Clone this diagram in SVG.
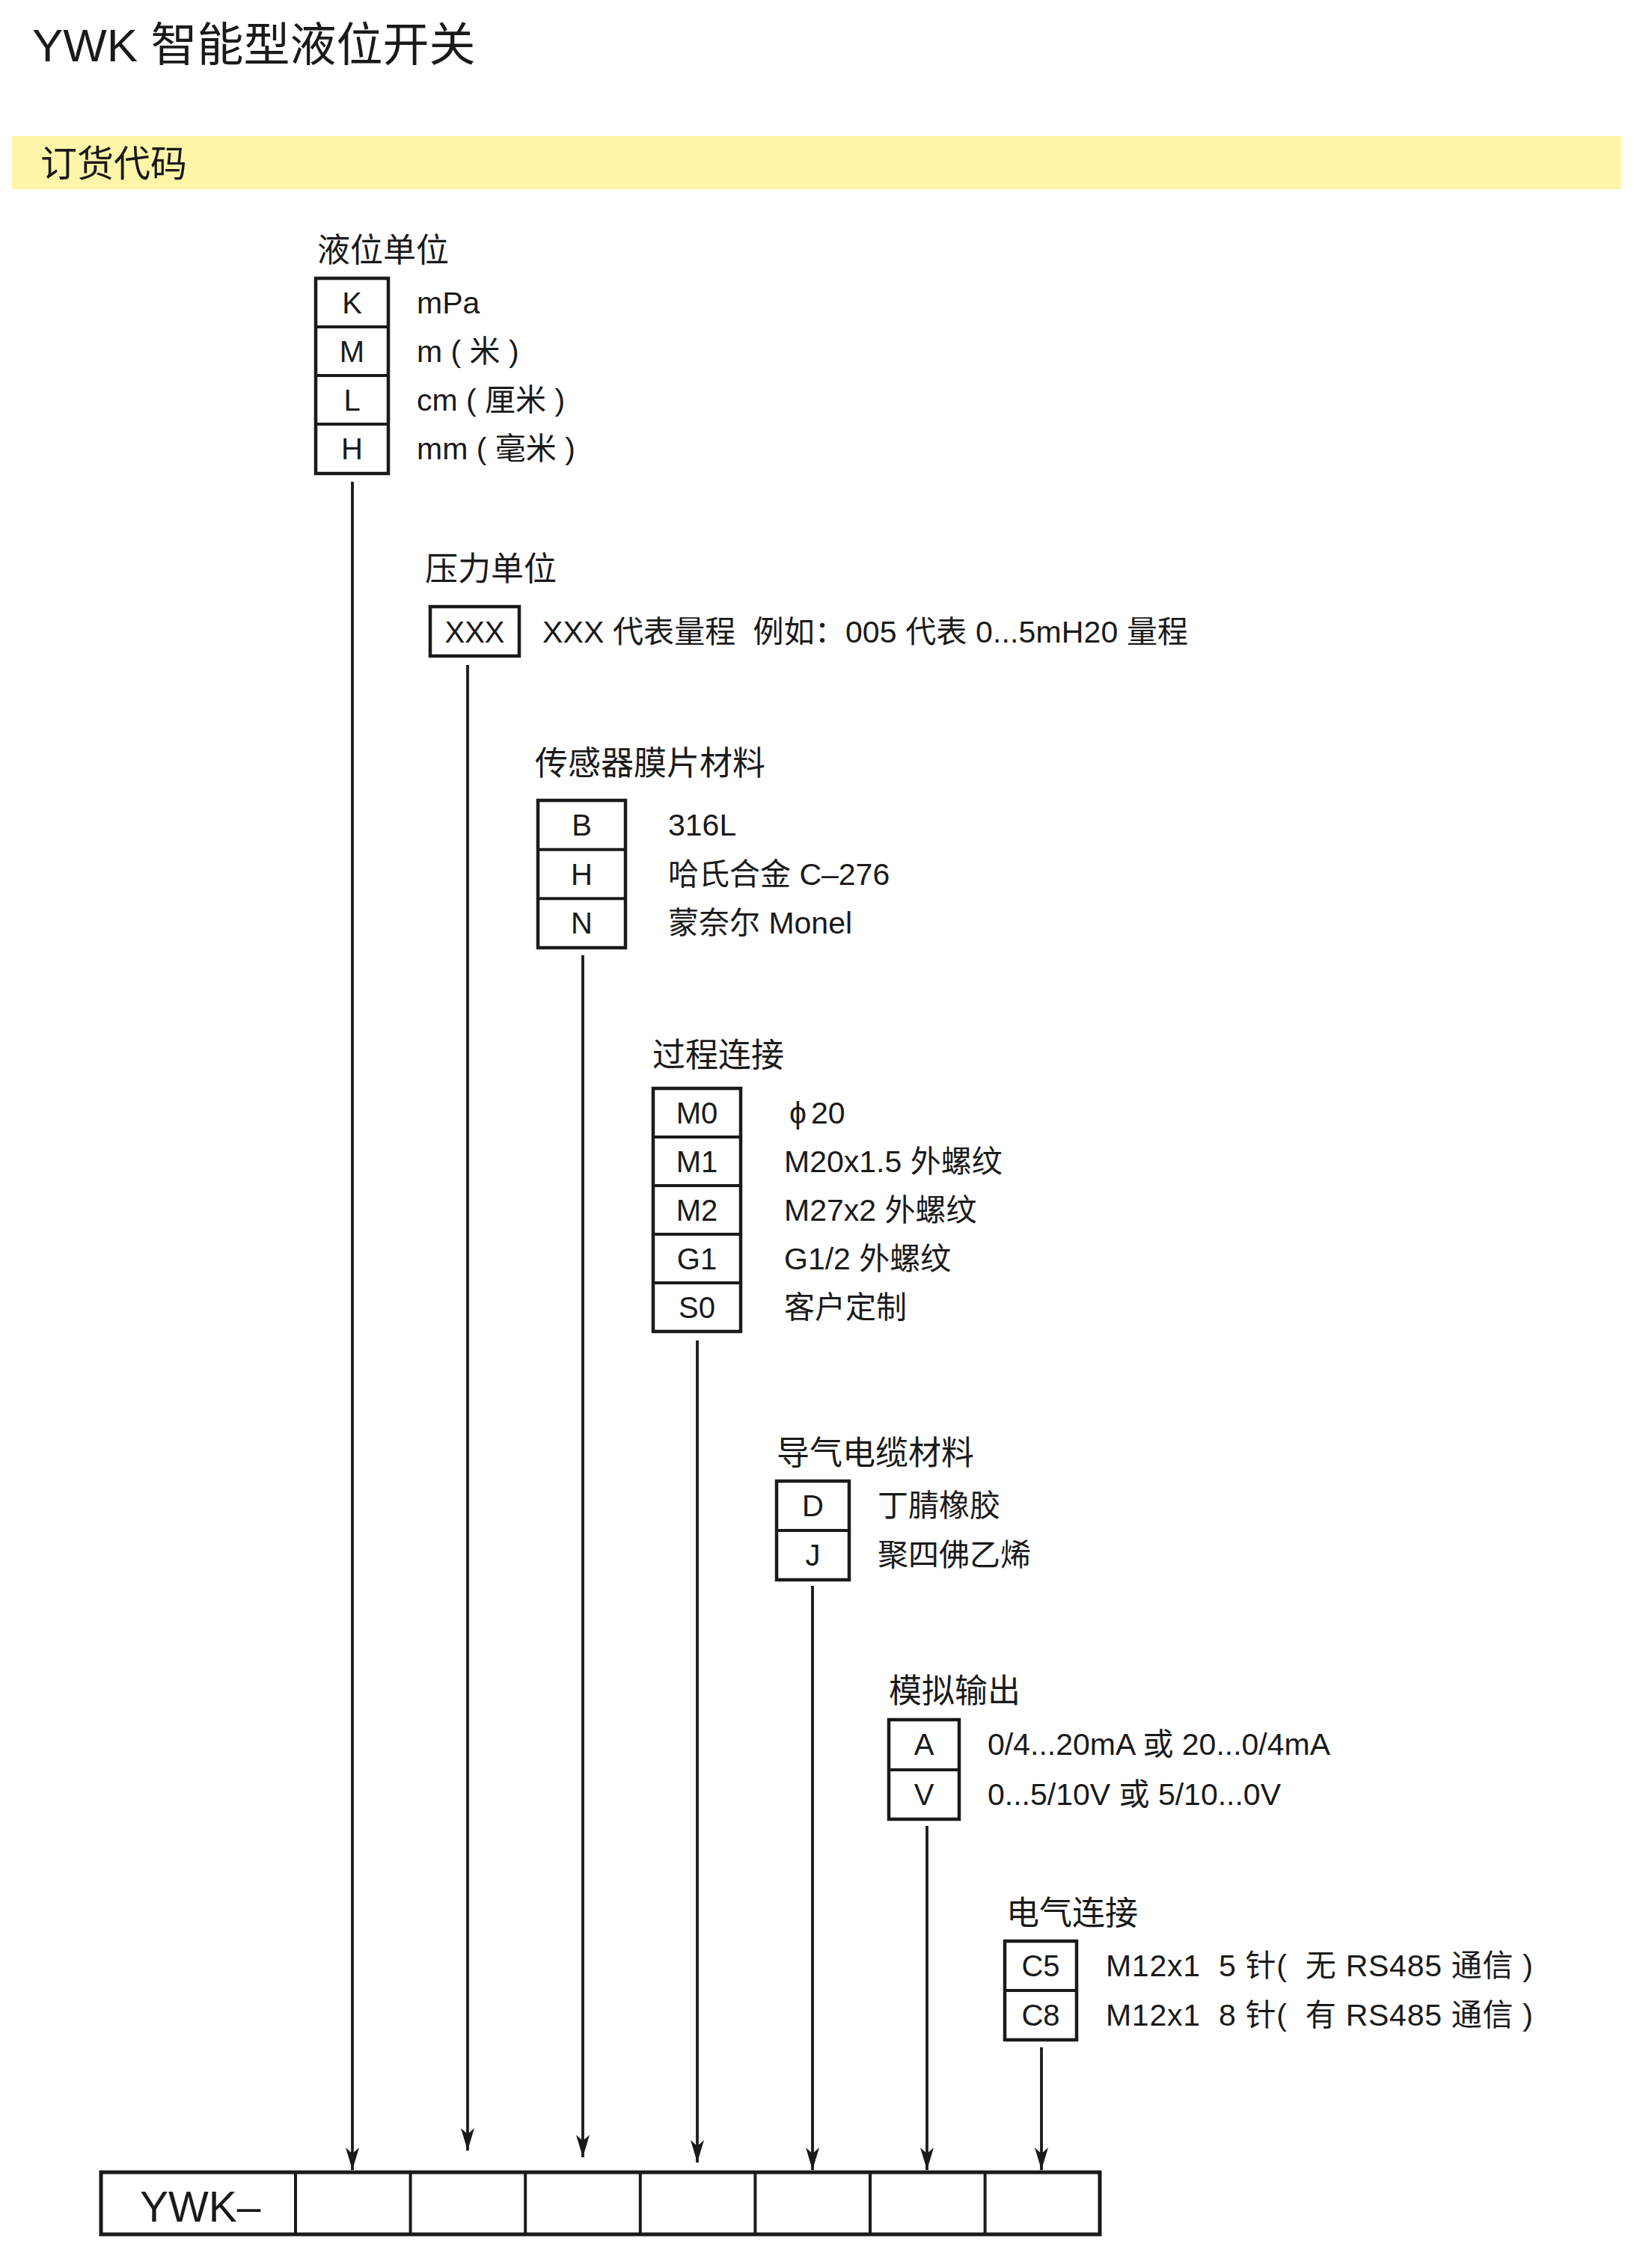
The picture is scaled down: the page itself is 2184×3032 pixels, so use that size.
<svg xmlns="http://www.w3.org/2000/svg" width="2184" height="3032" viewBox="0 0 2184 3032">
<defs>
<style>
text{font-family:"Liberation Sans","Noto Sans CJK SC",sans-serif;fill:#1a1a1a;white-space:pre}
.title{font-size:62px}
.band{font-size:49px}
.hdr{font-size:44px}
.lbl{font-size:40px;text-anchor:middle}
.row{font-size:41px}
.box{fill:#fff;stroke:#1a1a1a;stroke-width:4.5}
.div{stroke:#1a1a1a;stroke-width:4}
.conn{stroke:#1a1a1a;stroke-width:3.8;fill:none}
</style>
<marker id="ah" markerUnits="userSpaceOnUse" viewBox="-32 -10 34 20" refX="0" refY="0" markerWidth="34" markerHeight="20" orient="auto">
<path d="M0,0 L-30,-9 L-22,0 L-30,9 Z" fill="#1a1a1a"/>
</marker>
</defs>
<rect width="2184" height="3032" fill="#fff"/>
<text class="title" x="43" y="82">YWK 智能型液位开关</text>
<rect x="16" y="182" width="2151" height="71" fill="#fff5a8"/>
<text class="band" x="54" y="236">订货代码</text>

<g id="level-unit">
<text class="hdr" x="424" y="350">液位单位</text>
<rect class="box" x="422" y="372" width="97" height="261"/>
<line class="div" x1="422" y1="437" x2="519" y2="437"/>
<line class="div" x1="422" y1="502" x2="519" y2="502"/>
<line class="div" x1="422" y1="567" x2="519" y2="567"/>
<text class="lbl" x="470.5" y="419">K</text>
<text class="lbl" x="470.5" y="484">M</text>
<text class="lbl" x="470.5" y="549">L</text>
<text class="lbl" x="470.5" y="614">H</text>
<text class="row" x="557" y="419">mPa</text>
<text class="row" x="557" y="484">m ( 米 )</text>
<text class="row" x="557" y="549">cm ( 厘米 )</text>
<text class="row" x="557" y="614">mm ( 毫米 )</text>
</g>

<g id="pressure-unit">
<text class="hdr" x="568" y="776">压力单位</text>
<rect class="box" x="575" y="811" width="119" height="66"/>
<text class="lbl" x="634.5" y="859">XXX</text>
<text class="row" x="725" y="859" textLength="863">XXX 代表量程  例如：005 代表 0...5mH20 量程</text>
</g>

<g id="diaphragm">
<text class="hdr" x="715" y="1036">传感器膜片材料</text>
<rect class="box" x="719" y="1070" width="117" height="197"/>
<line class="div" x1="719" y1="1135.7" x2="836" y2="1135.7"/>
<line class="div" x1="719" y1="1201.3" x2="836" y2="1201.3"/>
<text class="lbl" x="777.5" y="1117">B</text>
<text class="lbl" x="777.5" y="1183">H</text>
<text class="lbl" x="777.5" y="1248">N</text>
<text class="row" x="893" y="1117">316L</text>
<text class="row" x="893" y="1183">哈氏合金 C–276</text>
<text class="row" x="893" y="1248">蒙奈尔 Monel</text>
</g>

<g id="process-connection">
<text class="hdr" x="872" y="1426">过程连接</text>
<rect class="box" x="873" y="1455" width="117" height="325"/>
<line class="div" x1="873" y1="1520" x2="990" y2="1520"/>
<line class="div" x1="873" y1="1585" x2="990" y2="1585"/>
<line class="div" x1="873" y1="1650" x2="990" y2="1650"/>
<line class="div" x1="873" y1="1715" x2="990" y2="1715"/>
<text class="lbl" x="931.5" y="1502">M0</text>
<text class="lbl" x="931.5" y="1567">M1</text>
<text class="lbl" x="931.5" y="1632">M2</text>
<text class="lbl" x="931.5" y="1697">G1</text>
<text class="lbl" x="931.5" y="1762">S0</text>
<text class="row" x="1055" y="1502">ϕ<tspan dx="6">20</tspan></text>
<text class="row" x="1048" y="1567">M20x1.5 外螺纹</text>
<text class="row" x="1048" y="1632">M27x2 外螺纹</text>
<text class="row" x="1048" y="1697">G1/2 外螺纹</text>
<text class="row" x="1048" y="1762">客户定制</text>
</g>

<g id="cable-material">
<text class="hdr" x="1038" y="1958">导气电缆材料</text>
<rect class="box" x="1038" y="1980" width="97" height="132"/>
<line class="div" x1="1038" y1="2046" x2="1135" y2="2046"/>
<text class="lbl" x="1086.5" y="2027">D</text>
<text class="lbl" x="1086.5" y="2093">J</text>
<text class="row" x="1173" y="2027">丁腈橡胶</text>
<text class="row" x="1173" y="2093">聚四佛乙烯</text>
</g>

<g id="analog-output">
<text class="hdr" x="1188" y="2276">模拟输出</text>
<rect class="box" x="1188" y="2299" width="94" height="133"/>
<line class="div" x1="1188" y1="2366" x2="1282" y2="2366"/>
<text class="lbl" x="1235" y="2346">A</text>
<text class="lbl" x="1235" y="2413">V</text>
<text class="row" x="1320" y="2346">0/4...20mA 或 20...0/4mA</text>
<text class="row" x="1320" y="2413">0...5/10V 或 5/10...0V</text>
</g>

<g id="electrical-connection">
<text class="hdr" x="1345" y="2573">电气连接</text>
<rect class="box" x="1343" y="2595" width="96" height="132"/>
<line class="div" x1="1343" y1="2661" x2="1439" y2="2661"/>
<text class="lbl" x="1391" y="2642">C5</text>
<text class="lbl" x="1391" y="2708">C8</text>
<text class="row" x="1478" y="2642" textLength="571">M12x1  5 针(  无 RS485 通信 )</text>
<text class="row" x="1478" y="2708" textLength="571">M12x1  8 针(  有 RS485 通信 )</text>
</g>

<g id="order-code-bar">
<rect x="135" y="2904" width="1335" height="83" fill="#fff" stroke="#1a1a1a" stroke-width="5"/>
<line class="div" x1="395" y1="2904" x2="395" y2="2987" stroke-width="3.2"/>
<line class="div" x1="548.6" y1="2904" x2="548.6" y2="2987" stroke-width="3.2"/>
<line class="div" x1="702.2" y1="2904" x2="702.2" y2="2987" stroke-width="3.2"/>
<line class="div" x1="855.8" y1="2904" x2="855.8" y2="2987" stroke-width="3.2"/>
<line class="div" x1="1009.4" y1="2904" x2="1009.4" y2="2987" stroke-width="3.2"/>
<line class="div" x1="1163" y1="2904" x2="1163" y2="2987" stroke-width="3.2"/>
<line class="div" x1="1316.6" y1="2904" x2="1316.6" y2="2987" stroke-width="3.2"/>
<text x="187" y="2970" font-size="57">YWK–</text>
</g>

<g id="connectors">
<line class="conn" x1="471" y1="644" x2="471" y2="2901" marker-end="url(#ah)"/>
<line class="conn" x1="625" y1="889" x2="625" y2="2875" marker-end="url(#ah)"/>
<line class="conn" x1="779" y1="1277" x2="779" y2="2884" marker-end="url(#ah)"/>
<line class="conn" x1="932" y1="1792" x2="932" y2="2891" marker-end="url(#ah)"/>
<line class="conn" x1="1086" y1="2120" x2="1086" y2="2901" marker-end="url(#ah)"/>
<line class="conn" x1="1239" y1="2441" x2="1239" y2="2901" marker-end="url(#ah)"/>
<line class="conn" x1="1392" y1="2737" x2="1392" y2="2901" marker-end="url(#ah)"/>
</g>
</svg>
